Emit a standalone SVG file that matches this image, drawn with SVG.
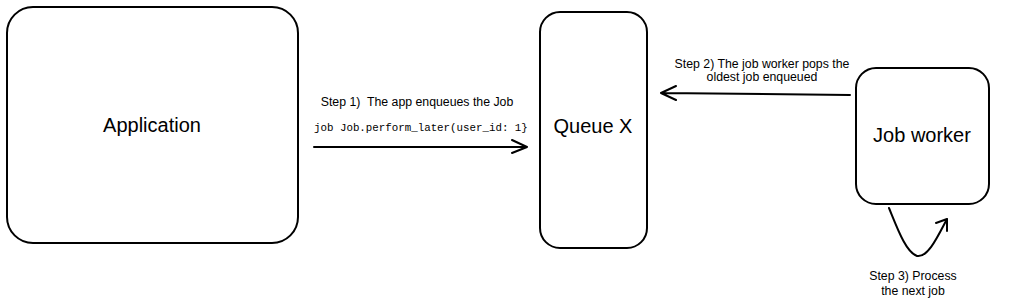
<svg xmlns="http://www.w3.org/2000/svg" width="1024" height="308" viewBox="0 0 1024 308">
<style>
.box{fill:#fff;stroke:#000;stroke-width:2}
.lbl{font-family:"Liberation Sans",Arial,sans-serif;fill:#000;text-anchor:middle}
.big{font-size:20px}
.small{font-size:12.3px}
.code{font-family:"Liberation Mono","Courier New",monospace;font-size:10.8px}
.conn{fill:none;stroke:#000;stroke-width:2;stroke-linecap:round;stroke-linejoin:round}
</style>
<rect width="1024" height="308" fill="#fff"/>
<g id="application">
<rect class="box" x="7" y="7" width="291" height="236" rx="26"/>
<text class="lbl big" x="152" y="132">Application</text>
</g>
<g id="queue-x">
<rect class="box" x="540" y="12" width="107" height="236" rx="20"/>
<text class="lbl big" x="593" y="133">Queue X</text>
</g>
<g id="job-worker">
<rect class="box" x="856" y="68" width="133" height="136" rx="20"/>
<text class="lbl big" x="922" y="142">Job worker</text>
</g>
<g id="connectors">
<path class="conn" d="M314 147 L527 147 M512 140 L527 147 L512 153"/>
<path class="conn" d="M850 95 L661 93 M676 86 L661 93 L676 100"/>
<path class="conn" d="M889 208 C898 230 906 252 917 256 C928 258 938 236 947 219 M936 223 L947 219 L947 231"/>
</g>
<g id="labels">
<text class="lbl small" x="417" y="106" xml:space="preserve">Step 1)  The app enqueues the Job</text>
<text class="code" x="314" y="131">job Job.perform_later(user_id: 1}</text>
<text class="lbl small" x="762" y="68">Step 2) The job worker pops the</text>
<text class="lbl small" x="762" y="81">oldest job enqueued</text>
<text class="lbl small" x="913" y="280">Step 3) Process</text>
<text class="lbl small" x="913" y="295">the next job</text>
</g>
</svg>
